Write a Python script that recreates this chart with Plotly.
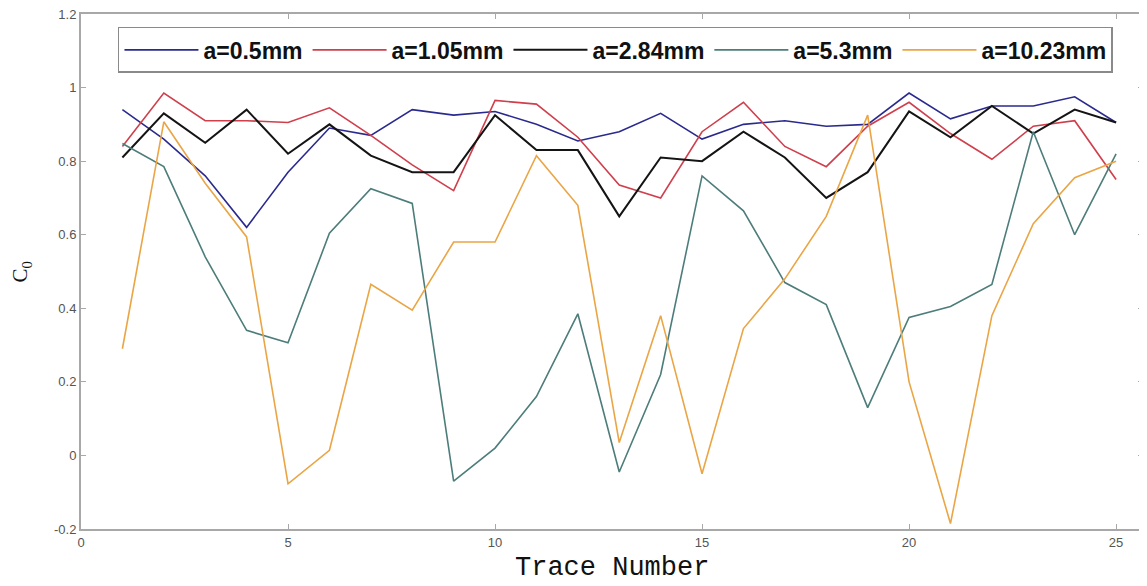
import plotly.graph_objects as go

trace_number = list(range(1, 26))

c0_a0_5 = [0.94, 0.86, 0.76, 0.62, 0.77, 0.89, 0.87, 0.94, 0.925, 0.935, 0.90, 0.855, 0.88,
           0.93, 0.86, 0.90, 0.91, 0.895, 0.90, 0.985, 0.915, 0.95, 0.95, 0.975, 0.905]
c0_a1_05 = [0.84, 0.985, 0.91, 0.91, 0.905, 0.945, 0.87, 0.79, 0.72, 0.965, 0.955, 0.865, 0.735,
            0.70, 0.88, 0.96, 0.84, 0.785, 0.895, 0.96, 0.875, 0.805, 0.895, 0.91, 0.75]
c0_a2_84 = [0.81, 0.93, 0.85, 0.94, 0.82, 0.90, 0.815, 0.77, 0.77, 0.925, 0.83, 0.83, 0.65,
            0.81, 0.80, 0.88, 0.81, 0.70, 0.77, 0.935, 0.865, 0.95, 0.875, 0.94, 0.905]
c0_a5_3 = [0.848, 0.785, 0.54, 0.34, 0.306, 0.604, 0.725, 0.685, -0.07, 0.02, 0.16, 0.385, -0.045,
           0.22, 0.76, 0.665, 0.47, 0.41, 0.13, 0.375, 0.405, 0.465, 0.88, 0.60, 0.82]
c0_a10_23 = [0.29, 0.907, 0.74, 0.594, -0.077, 0.014, 0.465, 0.395, 0.58, 0.58, 0.815, 0.68, 0.035,
             0.38, -0.05, 0.345, 0.48, 0.65, 0.925, 0.20, -0.185, 0.38, 0.63, 0.755, 0.80]

series_names = ["a=0.5mm", "a=1.05mm", "a=2.84mm", "a=5.3mm", "a=10.23mm"]
series_values = [c0_a0_5, c0_a1_05, c0_a2_84, c0_a5_3, c0_a10_23]
series_colors = ["#2a2a8e", "#cf3f4c", "#141414", "#4d7d7a", "#eaa545"]
series_widths = [1.6, 1.6, 2.0, 1.6, 1.6]

x_tickvals = [0, 5, 10, 15, 20, 25]
y_tickvals = [-0.2, 0, 0.2, 0.4, 0.6, 0.8, 1.0, 1.2]
y_ticktext = ["-0.2", "0", "0.2", "0.4", "0.6", "0.8", "1", "1.2"]

fig = go.Figure()
for name, vals, col, w in zip(series_names, series_values, series_colors, series_widths):
    fig.add_trace(go.Scatter(x=trace_number, y=vals, mode="lines", name=name,
                             line=dict(color=col, width=w)))

axis_common = dict(
    showline=True, linecolor="#a8a8a8", linewidth=2, mirror="ticks",
    ticks="inside", ticklen=5, tickcolor="#a8a8a8", tickwidth=1,
    showgrid=False, zeroline=False, automargin=False, ticklabeloverflow="allow",
    tickfont=dict(family="Liberation Sans, Arial, sans-serif", size=13, color="#555555"),
)

# the page body adds an 8px offset, so the figure is sized 8px smaller
fig.update_layout(
    width=1139, height=578,
    margin=dict(l=73, r=4, t=6, b=57),
    paper_bgcolor="white", plot_bgcolor="white",
    xaxis=dict(range=[0, 25.65], tickvals=x_tickvals, **axis_common),
    yaxis=dict(range=[-0.2, 1.2], tickvals=y_tickvals, ticktext=y_ticktext, **axis_common),
    showlegend=True,
    legend=dict(
        orientation="h", x=0.0348, xanchor="left", y=0.975, yanchor="top",
        bgcolor="white", bordercolor="#8a8a8a", borderwidth=1.5,
        font=dict(family="Liberation Sans, Arial, sans-serif", size=23, color="#111111",
                  weight="bold"),
        itemwidth=74,
    ),
    annotations=[
        dict(text="C<sub>0</sub>", xref="paper", yref="paper", x=-0.0565, y=0.5,
             xanchor="center", yanchor="middle", textangle=-90, showarrow=False,
             font=dict(family="Liberation Serif, Times New Roman, serif", size=21, color="#111111")),
        dict(text="Trace Number", xref="paper", yref="paper", x=0.5, y=-0.0757,
             xanchor="center", yanchor="middle", showarrow=False,
             font=dict(family="Liberation Mono, Courier New, monospace", size=27, color="#111111")),
    ],
)

fig.write_html("out.html")
